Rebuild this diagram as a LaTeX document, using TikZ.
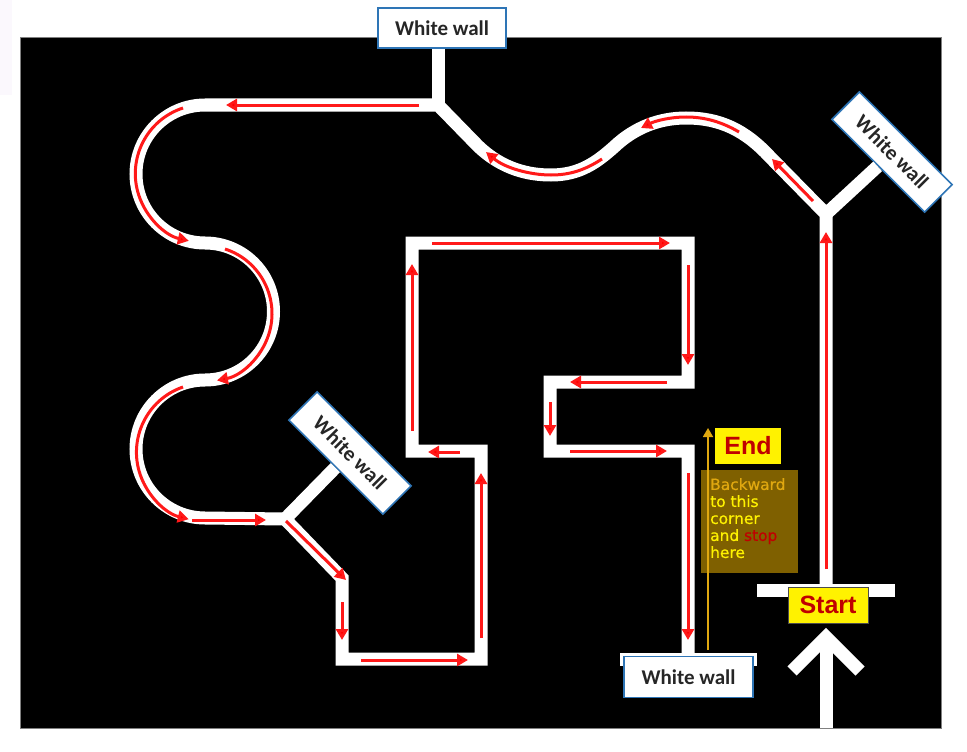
\documentclass[tikz,border=0pt]{standalone}
\usepackage{fontspec}
\usetikzlibrary{arrows.meta}
\newfontfamily\wallfont{Carlito}
\newfontfamily\labelfont{Liberation Sans}
\newfontfamily\notefont[FakeBold=0.5]{DejaVu Sans}
\definecolor{wallblue}{HTML}{2E75B6}
\definecolor{notebrown}{HTML}{7F6000}
\definecolor{pathgold}{HTML}{E0A810}
\definecolor{labelred}{HTML}{C00000}
\definecolor{edgetint}{HTML}{FBF8FD}
\tikzset{
  track/.style={draw=white,line width=13pt,line join=miter},
  redarrow/.style={draw=red!90!white,line width=3pt,-{Triangle[length=11pt,width=12pt,fill=red]}},
  wall/.style={draw=wallblue,line width=1.6pt,fill=white,inner sep=0pt,font=\wallfont\bfseries\fontsize{21}{24}\selectfont,text=black!85},
  flag/.style={fill=yellow,inner sep=0pt,font=\labelfont\bfseries\fontsize{25}{28}\selectfont,text=labelred},
}
\begin{document}
\begin{tikzpicture}[x=1pt,y=-1pt]
\useasboundingbox (0,0) rectangle (967,752);
\fill[white] (0,0) rectangle (967,752);
\fill[edgetint] (0,0) rectangle (12,95);
\filldraw[fill=black,draw=black!50,line width=.6pt] (20,37) rectangle (941,728);
\coordinate (jTop) at (438,105);
\coordinate (jRight) at (826,214);
\coordinate (jLeft) at (285,519);
\coordinate (startBar) at (826,590);
% track, drawn from the start line round to the last wall
\draw[track] (startBar) -- (jRight) -- (770,157) .. controls (745,130) and (720,118) .. (686,118)
  .. controls (660,118) and (635,127) .. (614,147) .. controls (597,162) and (580,175) .. (551,175)
  .. controls (530,175) and (503,170) .. (478,146) -- (jTop) -- (205,105)
  arc[start angle=-90,end angle=-270,radius=69]
  arc[start angle=-90,end angle=90,radius=68.5]
  arc[start angle=-90,end angle=-270,radius=69]
  -- (jLeft) -- (342,578) -- (342,659) -- (481,659) -- (481,451) -- (412,451) -- (412,243)
  -- (688,243) -- (688,382) -- (550,382) -- (550,451) -- (688,451) -- (688,659);
\draw[track] (620,659) -- (757,659);
\draw[track] (757,590) -- (895,590);
% big arrow under the start line
\draw[track] (826,728) -- (826,640);
\draw[track] (792,671) -- (826,637) -- (860,671);
% walls
\node[wall,minimum width=128pt,minimum height=40pt] (wallTop) at (442,28) {White wall\hspace{4pt}};
\node[wall,minimum width=131pt,minimum height=39pt,rotate=-45] (wallRight) at (892,152) {White wall};
\node[wall,minimum width=133pt,minimum height=40pt,rotate=-45] (wallLeft) at (350,453) {White wall\hspace{5pt}};
\node[wall,minimum width=129pt,minimum height=41pt] (wallBottom) at (688.5,677) {White wall\hspace{3pt}};
\draw[track] (jTop) -- (wallTop.south -| jTop);
\draw[track] (jRight) -- (wallRight.south);
\draw[track] (jLeft) -- (wallLeft.south);
% direction arrows, straight ones first
\foreach \xa/\ya/\xb/\yb in {826/569/826/232,813/201/772/159,419/105/226/105,192/520/266/520,286/521/346/580,
  342/602/342/640,361/660/468/660,481/638/481/473,460/452/428/452,412/431/412/264,432/243/670/243,
  688/265/688/365,667/382/570/382,550/402/550/436,570/451/667/451,688/473/688/640}{
  \draw[redarrow] (\xa,\ya) -- (\xb,\yb);
}
\draw[redarrow] (739,132) .. controls (722,122) and (705,117) .. (686,117) .. controls (670,117) and (655,121) .. (641,128);
\draw[redarrow] (602,159) .. controls (585,170) and (570,175) .. (551,175) .. controls (530,175) and (505,168) .. (486,152);
\draw[redarrow] (183,108) arc[start angle=-108,end angle=-257,radius=69];
\draw[redarrow] (225,249) arc[start angle=-72,end angle=79,radius=68];
\draw[redarrow] (183,387) arc[start angle=-109,end angle=-256,radius=69];
% end of the run
\node[flag,minimum width=66pt,minimum height=36pt] (endBox) at (748,446) {End};
\node[fill=notebrown,minimum width=97pt,minimum height=103pt,inner sep=0pt] (noteBox) at (749.5,521.5) {};
\node[anchor=north west,inner sep=0pt,align=left,text=yellow,font=\notefont\fontsize{15.4}{17}\selectfont] (noteText) at (710,478)
  {\textcolor{pathgold}{Backward}\\to this\\corner\\and \textcolor{labelred}{stop}\\here};
\coordinate (backFoot) at (708,650);
\coordinate (backHead) at (708,428);
\draw[pathgold,line width=1.8pt,-{Triangle[length=9pt,width=10pt]}] (backFoot) -- (backHead);
\node[flag,draw=black!70,line width=.5pt,minimum width=80pt,minimum height=36pt] (startBox) at (828,605) {Start};
\end{tikzpicture}
\end{document}
